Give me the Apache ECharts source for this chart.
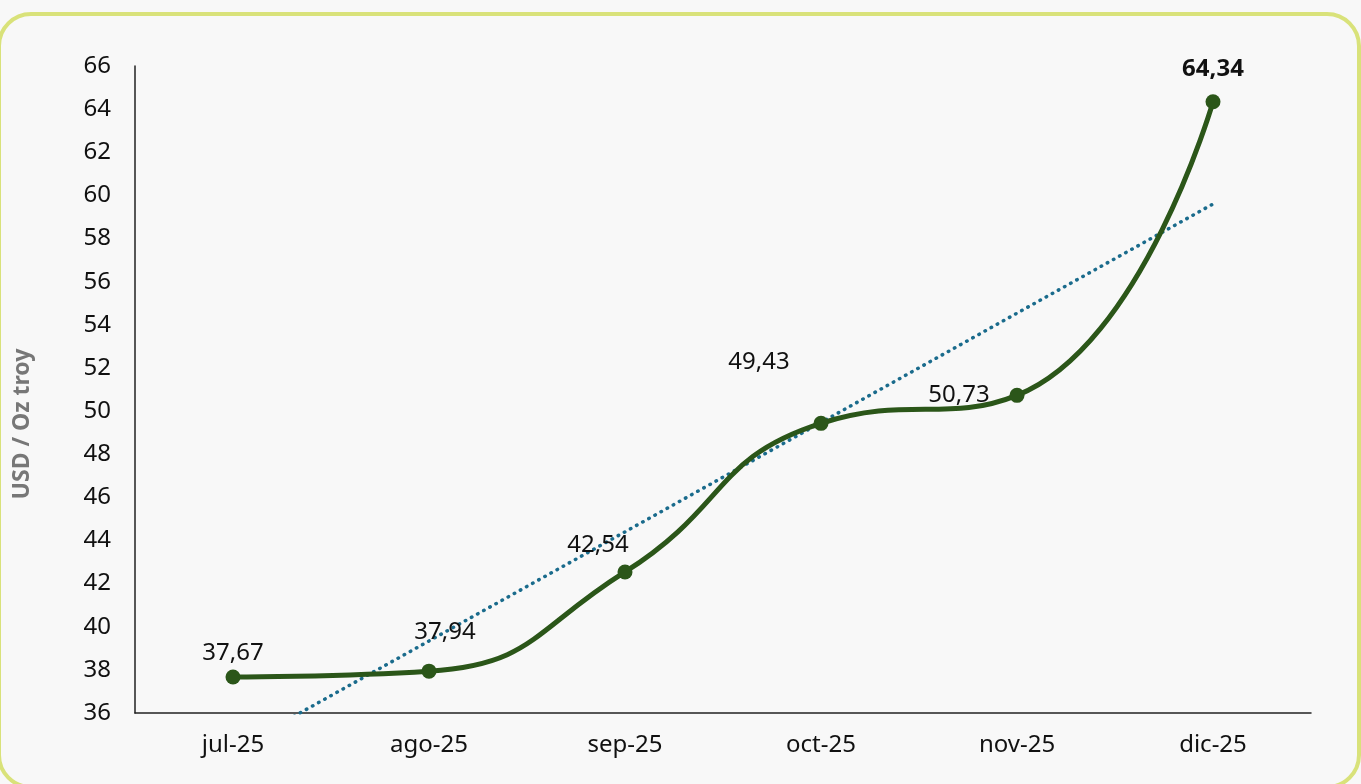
<!DOCTYPE html>
<html><head><meta charset="utf-8">
<script src="https://cdn.jsdelivr.net/npm/echarts@6/dist/echarts.min.js"></script>
<style>html,body{margin:0;padding:0;background:#f8f8f8;}#c{width:1361px;height:784px;}</style>
</head><body><div id="c"></div>
<script>
const categories = ['jul-25','ago-25','sep-25','oct-25','nov-25','dic-25'];
const prices = [37.67, 37.94, 42.54, 49.43, 50.73, 64.34];
const trendValues = [34.27, 39.34, 44.40, 49.47, 54.54, 59.60];
const yTicks = {min: 36, max: 66, step: 2};
const yAxisTitle = 'USD / Oz troy';

const labelOffsets = [[0,-24],[16,-39],[-27,-27],[-62,-61],[-58,0],[0,-33]];
const fmt = v => v.toFixed(2).replace('.', ',');
const FONT = '"Noto Sans", sans-serif';

const priceData = prices.map((v,i) => ({
  value: v,
  label: {
    show: true, position: 'inside', offset: labelOffsets[i],
    formatter: p => fmt(p.value),
    fontSize: 24, color: '#111', fontFamily: FONT,
    fontWeight: i === prices.length-1 ? 'bold' : 'normal'
  }
}));

const chart = echarts.init(document.getElementById('c'), null, {renderer:'canvas'});
chart.setOption({
  backgroundColor: '#f8f8f8',
  animation: false,
  textStyle: {fontFamily: FONT},
  graphic: [{
    type: 'rect', silent: true, z: -1,
    shape: {x: -1, y: 14, width: 1360, height: 773, r: 32},
    style: {fill: 'none', stroke: '#d9e27a', lineWidth: 4}
  }, {
    type: 'text', silent: true, x: 22, y: 424, rotation: Math.PI/2,
    style: {text: yAxisTitle, fontSize: 23, fontWeight: 'bold', fill: '#777',
      fontFamily: FONT, align: 'center', verticalAlign: 'middle'}
  }],
  grid: {left: 135, right: 50, top: 66, bottom: 71, containLabel: false},
  xAxis: {
    type: 'category', data: categories, boundaryGap: true,
    axisLine: {show: true, lineStyle: {color: '#222', width: 1.5}},
    axisTick: {show: false},
    axisLabel: {fontSize: 24, color: '#111', margin: 20, fontFamily: FONT}
  },
  yAxis: {
    type: 'value', min: yTicks.min, max: yTicks.max, interval: yTicks.step,
    axisLine: {show: true, lineStyle: {color: '#222', width: 1.5}},
    axisTick: {show: false},
    splitLine: {show: false},
    axisLabel: {fontSize: 24, color: '#111', margin: 24, fontFamily: FONT}
  },
  series: [
    {
      type: 'line', data: trendValues, symbol: 'none', smooth: false, z: 2,
      lineStyle: {color: '#1a6b8c', width: 3.5, type: [0.5, 6.5], cap: 'round'},
      clip: true, silent: true
    },
    {
      type: 'line', data: priceData, smooth: 0.5, z: 3,
      symbol: 'circle', symbolSize: 15,
      itemStyle: {color: '#2b5619'},
      lineStyle: {color: '#2b5619', width: 5}
    }
  ]
});
</script></body></html>
